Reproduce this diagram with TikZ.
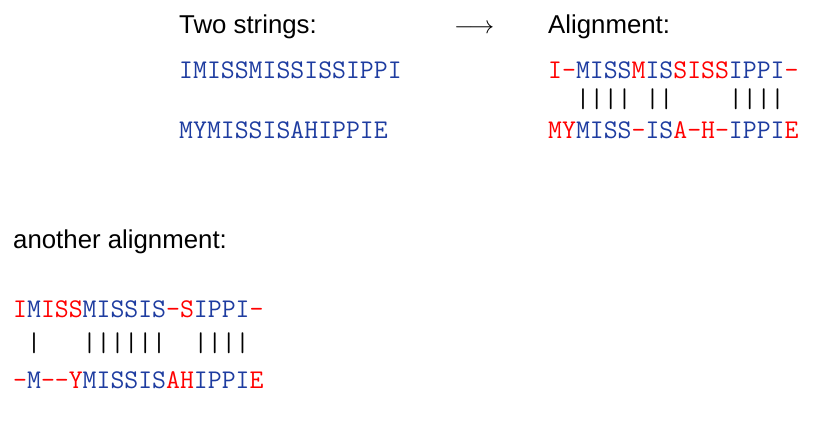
\documentclass[tikz,border=0pt]{standalone}
\usepackage{fontspec}
\setmainfont{Liberation Sans}
\setmonofont{Latin Modern Mono}
\definecolor{seqblue}{RGB}{30,60,160}
\definecolor{seqred}{RGB}{255,0,0}
\newcommand{\rd}[1]{\textcolor{seqred}{#1}}
\begin{document}
\begin{tikzpicture}[x=1pt,y=-1pt,
  label/.style={anchor=base west,inner sep=0pt,text=black,
    font=\fontsize{25.8}{30}\selectfont},
  seq/.style={anchor=base west,inner sep=0pt,text=seqblue,
    font=\fontsize{27}{30}\selectfont\ttfamily},
  bars/.style={anchor=base west,inner sep=0pt,text=black,
    font=\fontsize{27}{30}\selectfont\ttfamily}]
\useasboundingbox (0,0) rectangle (836,446);

% headings
\node[label] (two) at (179,34) {Two strings:};
\node[label] (ali) at (548,34) {Alignment:};
\node[label] (arr) at (454,34) {$\longrightarrow$};

% the two input strings
\node[seq] (s1) at (179,79) {IMISSMISSISSIPPI};
\node[seq] (s2) at (179,139) {MYMISSISAHIPPIE};

% first alignment
\node[seq] (a1) at (548,79) {\rd{I-}MISS\rd{M}IS\rd{SISS}IPPI\rd{-}};
\node[bars] (b1) at (548,108) {~~||||~||~~~~||||};
\node[seq] (a2) at (548,139) {\rd{MY}MISS\rd{-}IS\rd{A-H-}IPPI\rd{E}};

% second alignment
\node[label] (ano) at (13,249) {another alignment:};
\node[seq] (c1) at (13,318) {\rd{I}M\rd{ISS}MISSIS\rd{-S}IPPI\rd{-}};
\node[bars] (b2) at (13,352) {~|~~~||||||~~||||};
\node[seq] (c2) at (13,389) {\rd{-}M\rd{-\kern0pt-Y}MISSIS\rd{AH}IPPI\rd{E}};
\end{tikzpicture}
\end{document}
